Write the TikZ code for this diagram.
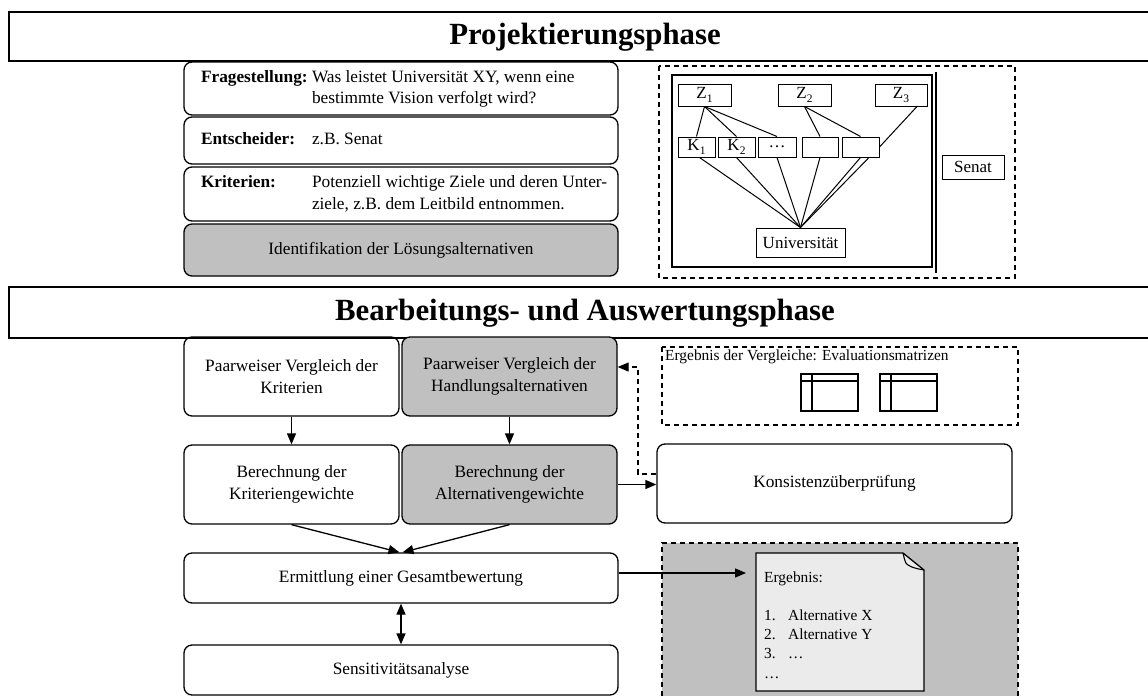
\documentclass[tikz,border=0pt]{standalone}
\usepackage{fontspec}
\setmainfont{Liberation Serif}
\usetikzlibrary{arrows.meta,calc}
\definecolor{boxgrey}{HTML}{C0C0C0}
\definecolor{docgrey}{HTML}{EBEBEB}
\newcommand{\lowsubidx}[1]{\raisebox{-4.5pt}{\fontsize{11.5}{12}\selectfont #1}}
\tikzset{
  rbox/.style={draw, line width=1.3pt, rounded corners=8pt, inner sep=0pt, align=center,
    font=\fontsize{17.3}{21.5}\selectfont},
  gbox/.style={rbox, fill=boxgrey},
  sbox/.style={draw, line width=1pt, inner sep=0pt, font=\fontsize{17}{20}\selectfont},
  arr/.style={-{Triangle[length=11pt,width=9pt]}, line width=1.3pt},
  dblarr/.style={{Triangle[length=11pt,width=9pt]}-{Triangle[length=11pt,width=9pt]}, line width=1.3pt},
  dashedline/.style={dash pattern=on 5pt off 4pt, line width=1.2pt},
  barline/.style={line width=2.5pt},
  titletext/.style={inner sep=0pt, font=\fontsize{30.8}{36}\selectfont\bfseries},
  thinline/.style={line width=1pt},
  smalltext/.style={inner sep=0pt, font=\fontsize{15.4}{19.2}\selectfont}
}
\begin{document}
\begin{tikzpicture}[x=1pt,y=-1pt]
\useasboundingbox (0,0) rectangle (1148,696);

% ---------- header bars ----------
\draw[barline] (1148,12) -- (9,12) -- (9,61) -- (1148,61);
\node[titletext] (t1) at (585,37) {Projektierungsphase};
\draw[barline] (1148,287) -- (9,287) -- (9,338) -- (1148,338);
\node[titletext] (t2) at (585,313) {Bearbeitungs- und Auswertungsphase};

% ---------- Projektierungsphase: left rows ----------
\node[rbox, minimum width=434, minimum height=53] (r1) at (401,88.5)
  {\makebox[400pt][l]{\begin{tabular}{@{}p{111pt}@{}l@{}}\textbf{Fragestellung:} & Was leistet Universität XY, wenn eine\\ & bestimmte Vision verfolgt wird?\end{tabular}}};
\node[rbox, minimum width=434, minimum height=47] (r2) at (401,140.5)
  {\makebox[400pt][l]{\begin{tabular}{@{}p{111pt}@{}l@{}}\textbf{Entscheider:} & z.B. Senat\end{tabular}}};
\node[rbox, minimum width=434, minimum height=54] (r3) at (401,194)
  {\makebox[400pt][l]{\begin{tabular}{@{}p{111pt}@{}l@{}}\textbf{Kriterien:} & Potenziell wichtige Ziele und deren Unter-\\ & ziele, z.B. dem Leitbild entnommen.\end{tabular}}};
\node[gbox, minimum width=434, minimum height=52] (r4) at (401,250) {Identifikation der Lösungsalternativen};

% ---------- Projektierungsphase: hierarchy ----------
\draw[dashedline] (659,66) rectangle (1015,278);
\draw[line width=1.3pt] (672,75) rectangle (932,267);
\draw[line width=1.3pt] (936,72) -- (936,273);

\node[sbox, minimum width=53, minimum height=22] (z1) at (704.5,95) {Z\lowsubidx{1}};
\node[sbox, minimum width=53, minimum height=22] (z2) at (804.5,95) {Z\lowsubidx{2}};
\node[sbox, minimum width=52, minimum height=22] (z3) at (901,95) {Z\lowsubidx{3}};

\node[sbox, minimum width=37, minimum height=20] (k1) at (696.5,147) {K\lowsubidx{1}};
\node[sbox, minimum width=37, minimum height=20] (k2) at (736.5,147) {K\lowsubidx{2}};
\node[sbox, minimum width=38, minimum height=20] (k3) at (777,147) {…};
\node[sbox, minimum width=36, minimum height=20] (k4) at (820,147) {};
\node[sbox, minimum width=37, minimum height=20] (k5) at (860.5,147) {};

\node[sbox, minimum width=89, minimum height=29] (uni) at (800.5,242.5) {Universität};
\node[sbox, minimum width=62, minimum height=24] (senat) at (973,167) {Senat};

\draw[thinline] (z1.south) -- (k1.north);
\draw[thinline] (z1.south) -- (k2.north);
\draw[thinline] (z1.south) -- (k3.north);
\draw[thinline] (z2.south) -- (k4.north);
\draw[thinline] (z2.south) -- (k5.north);
\draw[thinline] ([xshift=16pt]z3.south) -- (k5.east);

\draw[thinline] ([xshift=3pt]k1.south) -- (uni.north);
\draw[thinline] (k2.south) -- (uni.north);
\draw[thinline] (k3.south) -- (uni.north);
\draw[thinline] (k4.south) -- (uni.north);
\draw[thinline] (k5.south) -- (uni.north);
\draw[thinline] ([xshift=8.5pt]k5.south) -- (uni.north);

% ---------- Bearbeitungs- und Auswertungsphase ----------
\node[rbox, minimum width=215, minimum height=79] (a) at (291.5,376.5) {Paarweiser Vergleich der\\Kriterien};
\node[gbox, minimum width=215, minimum height=79] (b) at (509.5,376.5) {Paarweiser Vergleich der\\Handlungsalternativen};
\node[rbox, minimum width=215, minimum height=79] (c) at (291.5,484.5) {Berechnung der\\Kriteriengewichte};
\node[gbox, minimum width=215, minimum height=79] (d) at (509.5,484.5) {Berechnung der\\Alternativengewichte};
\node[rbox, minimum width=355, minimum height=79] (k) at (834.5,483.5) {Konsistenzüberprüfung};
\node[rbox, minimum width=434, minimum height=50] (e) at (401,578) {Ermittlung einer Gesamtbewertung};
\node[rbox, minimum width=434, minimum height=50] (f) at (401,670) {Sensitivitätsanalyse};

% evaluation matrices box
\draw[dashedline] (662,347) rectangle (1018,425);
\node[smalltext, anchor=west] (evt) at (665,357) {Ergebnis der Vergleiche: Evaluationsmatrizen};
\draw[line width=1.2pt] (801,374) rectangle (858,411);
\draw[line width=1.2pt] (812,374) -- (812,411);
\draw[line width=1.2pt] (801,381) -- (858,381);
\draw[line width=1.2pt] (880,374) rectangle (937,411);
\draw[line width=1.2pt] (891,374) -- (891,411);
\draw[line width=1.2pt] (880,381) -- (937,381);

% result area
\fill[boxgrey] (662,543) rectangle (1018,696);
\draw[dashedline] (662,696) -- (662,543) -- (1018,543) -- (1018,696);
\filldraw[fill=docgrey, line width=1.3pt] (756,553) -- (903,553) -- (924,570) -- (924,691) -- (756,691) -- cycle;
\draw[line width=1.1pt] (903,553) .. controls (906,560) and (900,566) .. (924,570);
\node[smalltext, anchor=base west, align=left] (doctext) at (764,582)
  {\begin{tabular}[t]{@{}p{24pt}@{}l@{}}\multicolumn{2}{@{}l@{}}{Ergebnis:}\\ & \\ 1. & Alternative X\\ 2. & Alternative Y\\ 3. & …\\ … & \end{tabular}};
\coordinate (doctip) at (746,573);

% connectors
\draw[arr] (a.south) -- (c.north);
\draw[arr] (b.south) -- (d.north);
\draw[arr] (c.south) -- ([xshift=-1.5pt]e.north);
\draw[arr] (d.south) -- ([xshift=1.5pt]e.north);
\draw[dblarr] (e.south) -- (f.north);
\draw[arr] (d.east) -- (d.east -| k.west);
\coordinate (dj) at (638,367);
\coordinate (dk) at (638,474);
\draw[arr, dashedline] ([yshift=9.5pt]k.west) -- (dk) -- (dj) -- (dj -| b.east);
\draw[arr] ([yshift=5pt]e.east) -- (doctip);
\end{tikzpicture}
\end{document}
